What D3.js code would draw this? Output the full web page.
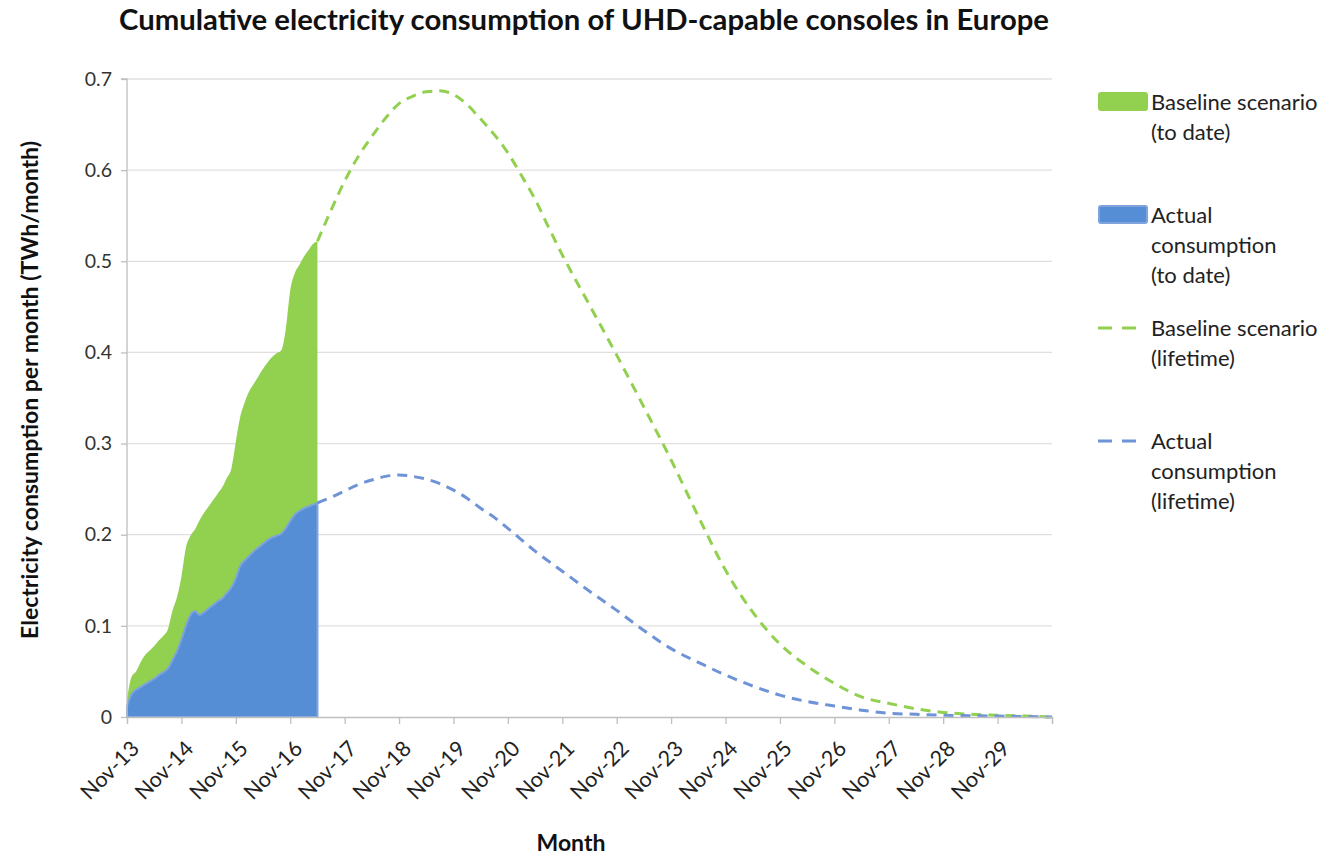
<!DOCTYPE html>
<html>
<head>
<meta charset="utf-8">
<script src="https://cdn.jsdelivr.net/npm/d3@7"></script>
<style>
  html, body { margin: 0; padding: 0; background: #fff; }
  svg { display: block; font-family: Lato, "Open Sans", sans-serif; }
</style>
</head>
<body>
<svg id="chart" width="1324" height="855"></svg>
<script>
// ---- Data (month index: 0 = Nov-13) ----
const toDateMonths = d3.range(0, 43);
const baselineToDate = [0.020, 0.044, 0.050, 0.060, 0.068, 0.073, 0.078, 0.084, 0.089, 0.096,
  0.116, 0.131, 0.154, 0.186, 0.199, 0.206, 0.216, 0.224, 0.231, 0.238,
  0.245, 0.252, 0.262, 0.272, 0.302, 0.330, 0.346, 0.358, 0.366, 0.374,
  0.382, 0.389, 0.395, 0.399, 0.402, 0.425, 0.468, 0.487, 0.496, 0.505,
  0.512, 0.519, 0.522];
const actualToDate = [0.012, 0.025, 0.030, 0.033, 0.036, 0.039, 0.042, 0.046, 0.049, 0.053,
  0.062, 0.072, 0.085, 0.100, 0.112, 0.116, 0.112, 0.115, 0.119, 0.123,
  0.127, 0.130, 0.136, 0.142, 0.152, 0.166, 0.172, 0.177, 0.182, 0.186,
  0.190, 0.194, 0.197, 0.199, 0.201, 0.207, 0.215, 0.222, 0.226, 0.229,
  0.231, 0.233, 0.235];

const baselineLifeMonths = [42, 45, 48, 51, 54, 57, 60, 63, 66, 69, 72, 75, 78, 81, 84, 87, 90, 93, 96,
  102, 108, 114, 120, 126, 132, 138, 144, 150, 156, 162, 168, 174, 180, 186, 192, 198, 204];
const baselineLifetime = [0.522, 0.556, 0.588, 0.615, 0.637, 0.657, 0.673, 0.681, 0.686, 0.687,
  0.683, 0.672, 0.656, 0.639, 0.619, 0.594, 0.568, 0.537, 0.507,
  0.452, 0.397, 0.340, 0.282, 0.220, 0.161, 0.115, 0.080, 0.056, 0.037,
  0.022, 0.015, 0.009, 0.005, 0.003, 0.002, 0.001, 0.000];

const actualLifeMonths = [42, 45, 48, 51, 54, 57, 60, 63, 66, 69, 72, 75, 78, 81, 84, 90, 96,
  102, 108, 114, 120, 126, 132, 138, 144, 150, 156, 162, 168, 174, 180, 192, 204];
const actualLifetime = [0.235, 0.241, 0.248, 0.255, 0.260, 0.264, 0.2655, 0.264, 0.261, 0.256,
  0.249, 0.240, 0.229, 0.219, 0.207, 0.182, 0.160,
  0.138, 0.117, 0.095, 0.075, 0.060, 0.046, 0.034, 0.024, 0.017, 0.012,
  0.0075, 0.004, 0.003, 0.002, 0.001, 0.000];

const xTickMonths = d3.range(0, 205, 12);
const xTickLabels = ["Nov-13","Nov-14","Nov-15","Nov-16","Nov-17","Nov-18","Nov-19","Nov-20",
  "Nov-21","Nov-22","Nov-23","Nov-24","Nov-25","Nov-26","Nov-27","Nov-28","Nov-29",""];
const yTicks = [0, 0.1, 0.2, 0.3, 0.4, 0.5, 0.6, 0.7];

const legendItems = [
  { type: "area", color: "#92d050", stroke: "#92d050", lines: ["Baseline scenario", "(to date)"], y: 102 },
  { type: "area", color: "#558ed5", stroke: "#7fa3dc", lines: ["Actual", "consumption", "(to date)"], y: 215 },
  { type: "line", color: "#92d050", lines: ["Baseline scenario", "(lifetime)"], y: 328 },
  { type: "line", color: "#6e93d6", lines: ["Actual", "consumption", "(lifetime)"], y: 441 }
];

// ---- Layout ----
const svg = d3.select("#chart");
const plot = { left: 127, right: 1052, top: 79, bottom: 717 };

const x = d3.scaleLinear().domain([0, 204]).range([plot.left, plot.right]);
const y = d3.scaleLinear().domain([0, 0.7]).range([plot.bottom, plot.top]);

// gridlines
svg.append("g").selectAll("line").data(yTicks.filter(d => d > 0)).join("line")
  .attr("x1", plot.left).attr("x2", plot.right)
  .attr("y1", d => y(d)).attr("y2", d => y(d))
  .attr("stroke", "#e0e0e0").attr("stroke-width", 1.3);

// areas
const green = toDateMonths.map((m, i) => ({ m, v: baselineToDate[i] }));
const blue = toDateMonths.map((m, i) => ({ m, v: actualToDate[i] }));
const area = d3.area().x(d => x(d.m)).y0(y(0)).y1(d => y(d.v)).curve(d3.curveMonotoneX);

svg.append("path").datum(green).attr("d", area).attr("fill", "#92d050");
svg.append("path").datum(blue).attr("d", area).attr("fill", "#558ed5")
  .attr("stroke", "#7fa3dc").attr("stroke-width", 2);

// lifetime lines
const line = d3.line().x(d => x(d.m)).y(d => y(d.v)).curve(d3.curveMonotoneX);
svg.append("path").datum(baselineLifeMonths.map((m, i) => ({ m, v: baselineLifetime[i] })))
  .attr("d", line).attr("fill", "none").attr("stroke", "#92d050")
  .attr("stroke-width", 3).attr("stroke-dasharray", "10,7");
svg.append("path").datum(actualLifeMonths.map((m, i) => ({ m, v: actualLifetime[i] })))
  .attr("d", line).attr("fill", "none").attr("stroke", "#6e93d6")
  .attr("stroke-width", 3).attr("stroke-dasharray", "10,7");

// y axis
const yAxis = d3.axisLeft(y).tickValues(yTicks).tickSize(6).tickPadding(9)
  .tickFormat(d => d === 0 ? "0" : d3.format(".1f")(d));
const gy = svg.append("g").attr("transform", `translate(${plot.left},0)`).call(yAxis);
gy.select(".domain").attr("stroke", "#bfbfbf").attr("stroke-width", 1.3).attr("d", `M-6,${plot.top}H0V${plot.bottom}`);
gy.selectAll(".tick line").attr("stroke", "#bfbfbf").attr("stroke-width", 1.3);
gy.selectAll(".tick text").attr("font-size", 19.5).attr("fill", "#333").attr("font-family", "Lato, sans-serif");

// x axis
const xAxis = d3.axisBottom(x).tickValues(xTickMonths).tickSize(7)
  .tickFormat((d, i) => xTickLabels[i]);
const gx = svg.append("g").attr("transform", `translate(0,${plot.bottom})`).call(xAxis);
gx.select(".domain").attr("stroke", "#bfbfbf").attr("stroke-width", 1.3);
gx.selectAll(".tick line").attr("stroke", "#bfbfbf").attr("stroke-width", 1.3);
gx.selectAll(".tick text").attr("font-size", 21.5).attr("fill", "#222").attr("font-family", "Lato, sans-serif")
  .attr("text-anchor", "end").attr("dy", null).attr("y", 0)
  .attr("transform", "translate(13,33) rotate(-45)");

// titles
svg.append("text").attr("x", 584).attr("y", 30).attr("text-anchor", "middle")
  .attr("font-size", 28).attr("font-weight", "bold").attr("fill", "#111")
  .attr("textLength", 930).attr("lengthAdjust", "spacingAndGlyphs")
  .text("Cumulative electricity consumption of UHD-capable consoles in Europe");
svg.append("text").attr("x", 571).attr("y", 851).attr("text-anchor", "middle")
  .attr("font-size", 23).attr("font-weight", "bold").attr("fill", "#111").text("Month");
svg.append("text").attr("transform", `translate(38,390) rotate(-90)`).attr("text-anchor", "middle")
  .attr("font-size", 22).attr("font-weight", "bold").attr("fill", "#111")
  .attr("textLength", 498).attr("lengthAdjust", "spacingAndGlyphs")
  .text("Electricity consumption per month (TWh/month)");

// legend
const lg = svg.append("g");
legendItems.forEach(it => {
  if (it.type === "area") {
    lg.append("rect").attr("x", 1099).attr("y", it.y - 9).attr("width", 48).attr("height", 17)
      .attr("rx", 2).attr("fill", it.color).attr("stroke", it.stroke).attr("stroke-width", 2);
  } else {
    lg.append("line").attr("x1", 1098).attr("x2", 1136).attr("y1", it.y).attr("y2", it.y)
      .attr("stroke", it.color).attr("stroke-width", 3).attr("stroke-dasharray", "14,10");
  }
  it.lines.forEach((t, j) => {
    lg.append("text").attr("x", 1151).attr("y", it.y + j * 30).attr("dy", "0.35em")
      .attr("font-size", 22).attr("fill", "#222").text(t);
  });
});
</script>
</body>
</html>
